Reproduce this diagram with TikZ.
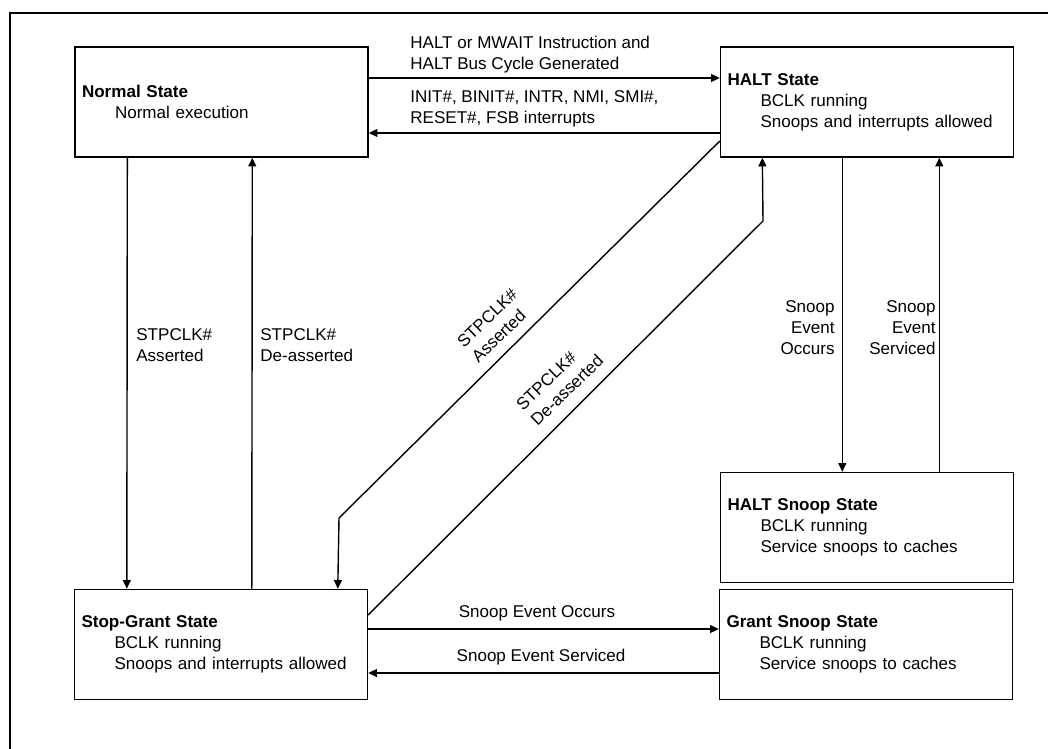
\documentclass[tikz,border=0pt]{standalone}
\usepackage{fontspec}
\setmainfont{Liberation Sans}
\usetikzlibrary{arrows.meta}
\newcommand{\stind}{\hspace*{0.66cm}}

\begin{document}
\begin{tikzpicture}[x=0.02cm,y=-0.02cm,
    every node/.style={font=\fontsize{9.7}{12}\selectfont},
    state/.style={draw,line width=0.8pt,minimum width=5.86cm,minimum height=2.2cm,
      text width=5.58cm,inner xsep=0.14cm,align=left},
    lbl/.style={inner sep=0pt,align=left},
    >={Triangle[length=5pt,width=4.5pt]}]
      \useasboundingbox (0,0) rectangle (1048,749);
      \draw[line width=1.2pt] (10,749) -- (10,13) -- (1048,13);
      \draw
        (221.5,102) node[state] (normal){\textbf{Normal State}\\\stind Normal execution}
        (867,102) node[state] (halt){\textbf{HALT State}\\\stind BCLK running\\\stind Snoops and interrupts allowed}
        (867,527.5) node[state] (hsnoop){\textbf{HALT Snoop State}\\\stind BCLK running\\\stind Service snoops to caches}
        (221,644.5) node[state] (stop){\textbf{Stop-Grant State}\\\stind BCLK running\\\stind Snoops and interrupts allowed}
        (866,644.5) node[state] (gsnoop){\textbf{Grant Snoop State}\\\stind BCLK running\\\stind Service snoops to caches};
      \coordinate (dA) at (339,518);
      \coordinate (dB) at (763,221);
      \begin{scope}[->,line width=0.8pt]
        \draw ([yshift=0.48cm]normal.east) to ([yshift=0.48cm]halt.west);
        \draw ([yshift=-0.62cm]halt.west) to ([yshift=-0.62cm]normal.east);
        \draw ([xshift=1.06cm]normal.south west) to ([xshift=1.06cm]stop.north west);
        \draw ([xshift=3.56cm]stop.north west) to ([xshift=3.56cm]normal.south west);
        \draw ([yshift=-0.78cm]halt.west) -- (dA) -- ([xshift=5.28cm]stop.north west);
        \draw ([yshift=0.59cm]stop.east) -- (dB) -- ([xshift=0.85cm]halt.south west);
        \draw ([xshift=2.45cm]halt.south west) to ([xshift=2.45cm]hsnoop.north west);
        \draw ([xshift=4.39cm]hsnoop.north west) to ([xshift=4.39cm]halt.south west);
        \draw ([yshift=0.31cm]stop.east) to ([yshift=0.31cm]gsnoop.west);
        \draw ([yshift=-0.57cm]gsnoop.west) to ([yshift=-0.57cm]stop.east);
      \end{scope}
      \node[lbl,anchor=west] (lhalt) at (410,54.5) {HALT or MWAIT Instruction and\\HALT Bus Cycle Generated};
      \node[lbl,anchor=west] (lint) at (410,109) {INIT\#, BINIT\#, INTR, NMI, SMI\#,\\RESET\#, FSB interrupts};
      \node[lbl,anchor=west] (lasrt) at (136,345) {STPCLK\#\\Asserted};
      \node[lbl,anchor=west] (ldeas) at (260,345) {STPCLK\#\\De-asserted};
      \node[lbl,anchor=west,rotate=44] (lasrtd) at (467,352) {STPCLK\#\\Asserted};
      \node[lbl,anchor=west,rotate=44] (ldeasd) at (526,415) {STPCLK\#\\De-asserted};
      \node[lbl,anchor=east,align=right] (locc) at (835,328) {Snoop\\Event\\Occurs};
      \node[lbl,anchor=east,align=right] (lserv) at (936,328) {Snoop\\Event\\Serviced};
      \node[lbl] (loccg) at (537,613) {Snoop Event Occurs};
      \node[lbl] (lservg) at (541,657) {Snoop Event Serviced};
    \end{tikzpicture}
\end{document}
